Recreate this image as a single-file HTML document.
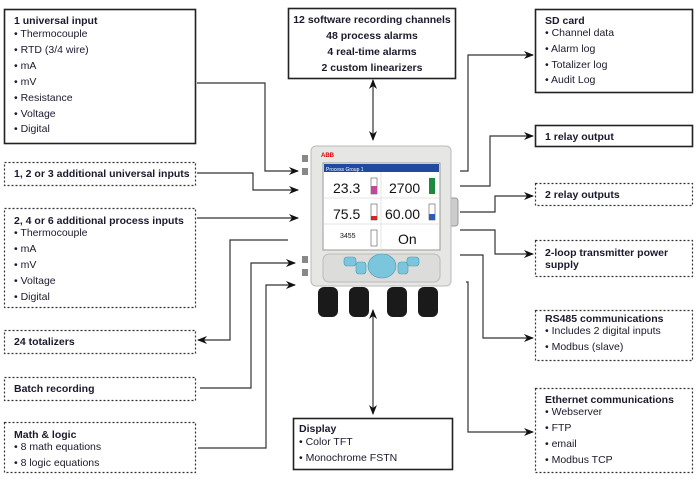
<!DOCTYPE html>
<html><head><meta charset="utf-8"><style>
html,body{margin:0;padding:0;background:#fff;width:700px;height:479px;overflow:hidden}
svg text{font-family:"Liberation Sans",sans-serif;font-size:10.5px;fill:#1a1a2e}
.b{font-weight:bold}
</style></head><body>
<svg width="700" height="479" viewBox="0 0 700 479" xmlns="http://www.w3.org/2000/svg">
<defs>
<marker id="a" markerWidth="10" markerHeight="8" refX="9" refY="4" orient="auto" markerUnits="userSpaceOnUse"><path d="M0,0 L10,4 L0,8 L3,4 Z" fill="#111"/></marker>
<marker id="s" markerWidth="10" markerHeight="8" refX="1" refY="4" orient="auto" markerUnits="userSpaceOnUse"><path d="M10,0 L0,4 L10,8 L7,4 Z" fill="#111"/></marker>
</defs>
<g fill="none" stroke="#222" stroke-width="1.6">
<rect x="4.5" y="9.5" width="191" height="134"/>
<rect x="288.5" y="8.5" width="167" height="70"/>
<rect x="293.5" y="418.5" width="159" height="51"/>
<rect x="535.5" y="9.5" width="157" height="83"/>
<rect x="535.5" y="125.5" width="157" height="21"/>
</g>
<g fill="none" stroke="#333" stroke-width="1.2" stroke-dasharray="2,2">
<rect x="4.5" y="162.5" width="191" height="23"/>
<rect x="4.5" y="208.5" width="191" height="99"/>
<rect x="4.5" y="330.5" width="191" height="23"/>
<rect x="4.5" y="377.5" width="191" height="23"/>
<rect x="4.5" y="422.5" width="191" height="50"/>
<rect x="535.5" y="183.5" width="157" height="22"/>
<rect x="535.5" y="240.5" width="157" height="36"/>
<rect x="535.5" y="310.5" width="157" height="50"/>
<rect x="535.5" y="388.5" width="157" height="84"/>
</g>
<g fill="none" stroke="#333" stroke-width="1.2">
<polyline points="197,83 265,83 265,171 298,171" marker-end="url(#a)"/>
<polyline points="197,173 253,173 253,190 298,190" marker-end="url(#a)"/>
<polyline points="197,218 298,218" marker-end="url(#a)"/>
<polyline points="288,240 230,240 230,340 198,340" marker-end="url(#a)"/>
<polyline points="200,388 251,388 251,263 295,263" marker-end="url(#a)"/>
<polyline points="198,448 266,448 266,285 295,285" marker-end="url(#a)"/>
<line x1="373" y1="80" x2="373" y2="140" marker-start="url(#s)" marker-end="url(#a)"/>
<line x1="373" y1="310" x2="373" y2="414" marker-start="url(#s)" marker-end="url(#a)"/>
<polyline points="460,171 468,171 468,55 533,55" marker-end="url(#a)"/>
<polyline points="460,186 490,186 490,136 533,136" marker-end="url(#a)"/>
<polyline points="460,212 495,212 495,196 533,196" marker-end="url(#a)"/>
<polyline points="460,230 495,230 495,254 533,254" marker-end="url(#a)"/>
<polyline points="460,255 483,255 483,338 533,338" marker-end="url(#a)"/>
<polyline points="466,282 468,282 468,432 533,432" marker-end="url(#a)"/>
</g>
<!-- device -->
<rect x="302" y="155" width="6" height="7" fill="#888"/><rect x="302" y="168" width="6" height="7" fill="#888"/>
<rect x="302" y="256" width="6" height="7" fill="#888"/><rect x="302" y="269" width="6" height="7" fill="#888"/>
<rect x="446" y="198" width="12" height="28" rx="3" fill="#ccc" stroke="#999"/>
<rect x="311" y="146" width="140" height="140" rx="5" fill="#e6e6e4" stroke="#bbb"/>
<rect x="323" y="163" width="117" height="87" fill="#fff" stroke="#999"/>
<rect x="324" y="164" width="115" height="8" fill="#1f4aa0"/>
<text x="326" y="171" style="font-size:5px;fill:#fff">Process Group 1</text>
<text x="321" y="157" style="font-size:6px;fill:#d00;font-weight:bold">ABB</text>
<g stroke="#ccc" stroke-width="0.5" fill="none"><line x1="381" y1="172" x2="381" y2="250"/><line x1="324" y1="198" x2="439" y2="198"/><line x1="324" y1="224" x2="439" y2="224"/></g>
<text x="333" y="193" style="font-size:14px;fill:#111">23.3</text>
<text x="389" y="193" style="font-size:14px;fill:#111">2700</text>
<text x="333" y="219" style="font-size:14px;fill:#111">75.5</text>
<text x="385" y="219" style="font-size:14px;fill:#111">60.00</text>
<text x="340" y="238" style="font-size:7px;fill:#111">3455</text>
<text x="398" y="244" style="font-size:14px;fill:#111">On</text>
<rect x="371" y="178" width="6" height="16" fill="#fff" stroke="#555" stroke-width=".6"/><rect x="371" y="186" width="6" height="8" fill="#c4479a"/>
<rect x="429" y="178" width="6" height="16" fill="#1b8a3a"/>
<rect x="371" y="204" width="6" height="16" fill="#fff" stroke="#555" stroke-width=".6"/><rect x="371" y="216" width="6" height="4" fill="#d22"/>
<rect x="429" y="204" width="6" height="16" fill="#fff" stroke="#555" stroke-width=".6"/><rect x="429" y="214" width="6" height="6" fill="#2a5cc0"/>
<rect x="371" y="230" width="6" height="16" fill="#fff" stroke="#555" stroke-width=".6"/>
<rect x="323" y="254" width="117" height="28" rx="6" fill="#dcdcda" stroke="#bbb"/>
<g fill="#7cc6dd" stroke="#4a98b0" stroke-width=".6">
<rect x="344" y="257" width="12" height="9" rx="3"/><rect x="356" y="262" width="10" height="12" rx="3"/>
<ellipse cx="382" cy="266" rx="14" ry="12"/><rect x="398" y="262" width="10" height="12" rx="3"/><rect x="407" y="257" width="12" height="9" rx="3"/>
</g>
<g fill="#1a1a1a"><rect x="318" y="287" width="20" height="30" rx="6"/><rect x="349" y="287" width="20" height="30" rx="6"/><rect x="387" y="287" width="20" height="30" rx="6"/><rect x="418" y="287" width="20" height="30" rx="6"/></g>
<!-- text left -->
<text x="14" y="24" class="b">1 universal input</text>
<g><text x="14" y="37">•  Thermocouple</text><text x="14" y="53">•  RTD (3/4 wire)</text><text x="14" y="69">•  mA</text><text x="14" y="85">•  mV</text><text x="14" y="101">•  Resistance</text><text x="14" y="117">•  Voltage</text><text x="14" y="132">•  Digital</text></g>
<text x="14" y="177" class="b">1, 2 or 3 additional universal inputs</text>
<text x="14" y="224" class="b">2, 4 or 6 additional process inputs</text>
<text x="14" y="236">•  Thermocouple</text><text x="14" y="252">•  mA</text><text x="14" y="268">•  mV</text><text x="14" y="284">•  Voltage</text><text x="14" y="300">•  Digital</text>
<text x="14" y="345" class="b">24 totalizers</text>
<text x="14" y="392" class="b">Batch recording</text>
<text x="14" y="438" class="b">Math &amp; logic</text>
<text x="14" y="450">•  8 math equations</text><text x="14" y="466">•  8 logic equations</text>
<!-- top / bottom -->
<g class="b" text-anchor="middle"><text x="372" y="23" class="b">12 software recording channels</text><text x="372" y="39" class="b">48 process alarms</text><text x="372" y="55" class="b">4 real-time alarms</text><text x="372" y="71" class="b">2 custom linearizers</text></g>
<text x="299" y="432" class="b">Display</text><text x="299" y="445">•  Color TFT</text><text x="299" y="461">•  Monochrome FSTN</text>
<!-- right -->
<text x="545" y="24" class="b">SD card</text><text x="545" y="36">•  Channel data</text><text x="545" y="52">•  Alarm log</text><text x="545" y="68">•  Totalizer log</text><text x="545" y="83">•  Audit Log</text>
<text x="545" y="140" class="b">1 relay output</text>
<text x="545" y="198" class="b">2 relay outputs</text>
<text x="545" y="256" class="b">2-loop transmitter power</text><text x="545" y="268" class="b">supply</text>
<text x="545" y="322" class="b">RS485 communications</text><text x="545" y="334">•  Includes 2 digital inputs</text><text x="545" y="350">•  Modbus (slave)</text>
<text x="545" y="403" class="b">Ethernet communications</text><text x="545" y="415">•  Webserver</text><text x="545" y="431">•  FTP</text><text x="545" y="447">•  email</text><text x="545" y="463">•  Modbus TCP</text>
</svg>
</body></html>
